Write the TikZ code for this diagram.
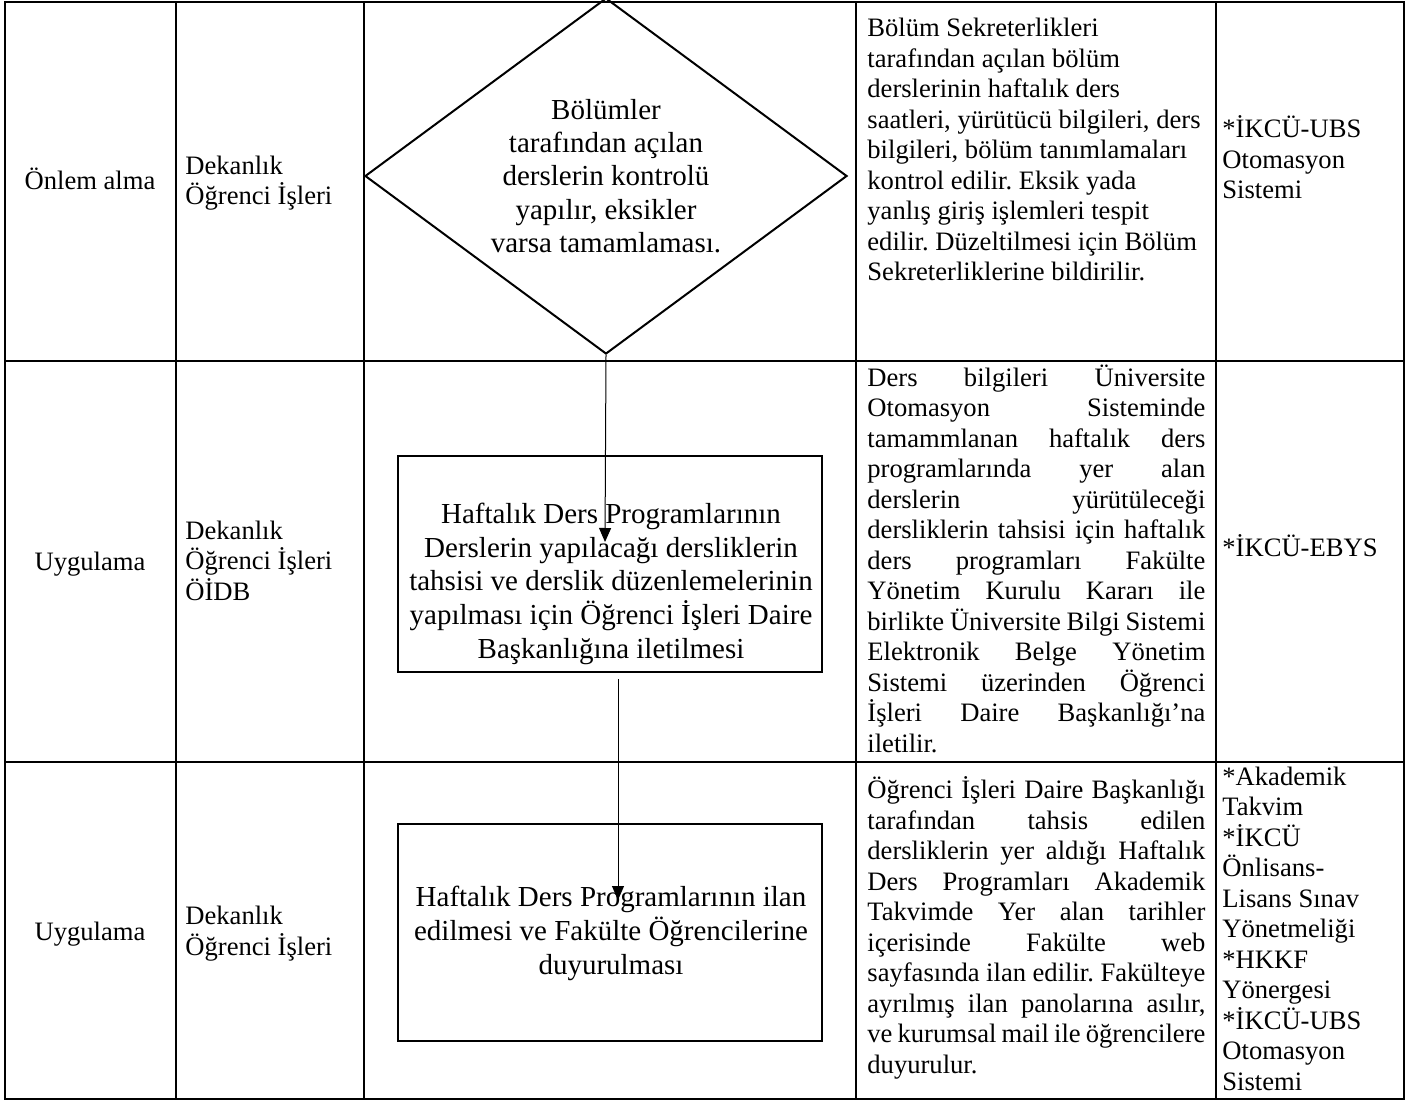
\documentclass[tikz,border=0pt]{standalone}
\usepackage{fontspec}
\setmainfont{Liberation Serif}
\usetikzlibrary{shapes.geometric,arrows.meta}
\frenchspacing
\newcommand{\fillline}[1]{\makebox[169pt][s]{#1}}
\tikzset{
    grid line/.style={line width=1pt},
    celltext/.style={inner sep=0pt, align=left, anchor=base west,
            font=\fontsize{13.3pt}{15.25pt}\selectfont},
    stagetext/.style={inner sep=0pt, anchor=base,
            font=\fontsize{13.3pt}{15.25pt}\selectfont},
    decision/.style={diamond, draw, line width=1pt, inner sep=0pt, aspect=1.354,
            minimum width=241pt, minimum height=178pt, align=center,
            font=\fontsize{14.5pt}{16.7pt}\selectfont},
    actbox/.style={rectangle, draw, line width=1pt, inner sep=0pt,
            minimum width=212pt, minimum height=108pt},
    boxtext/.style={inner sep=0pt, align=center, anchor=base,
            font=\fontsize{14.5pt}{16.8pt}\selectfont},
    flow/.style={-{Triangle[width=6pt,length=7pt]}, line width=0.5pt},
}
\begin{document}
\begin{tikzpicture}[x=0.5pt,y=-0.5pt]
    \useasboundingbox (0,0) rectangle (1418,1101);
    %draw table frame and row lines
    \draw[grid line] (5,2) rectangle (1404,1099);
    \draw[grid line] (5,361) -- (1404,361);
    \draw[grid line] (5,762) -- (1404,762);
    %draw column lines
    \foreach \colx in {176,364,856,1216}
        \draw[grid line] (\colx,2) -- (\colx,1099);
    %first column: stages
    \node[stagetext] (stage1) at (90,190) {Önlem alma};
    \node[stagetext] (stage2) at (90,570) {Uygulama};
    \node[stagetext] (stage3) at (90,940) {Uygulama};
    %second column: units (placed at the last line)
    \node[celltext] (unit1) at (185,205) {Dekanlık\\Öğrenci İşleri};
    \node[celltext] (unit2) at (185,600) {Dekanlık\\Öğrenci İşleri\\ÖİDB};
    \node[celltext] (unit3) at (185,955) {Dekanlık\\Öğrenci İşleri};
    %decision and process boxes
    \node[decision] (dec) at (606,176) {Bölümler\\tarafından açılan\\derslerin kontrolü\\yapılır, eksikler\\varsa tamamlaması.};
    \node[actbox] (act1) at (610,564) {};
    \node[boxtext] (act1 text) at (611,658) {Haftalık Ders Programlarının\\Derslerin yapılacağı dersliklerin\\tahsisi ve derslik düzenlemelerinin\\yapılması için Öğrenci İşleri Daire\\Başkanlığına iletilmesi};
    \node[actbox, minimum height=108.5pt] (act2) at (610,932.5) {};
    \node[boxtext] (act2 text) at (611,974) {Haftalık Ders Programlarının ilan\\edilmesi ve Fakülte Öğrencilerine\\duyurulması};
    %draw arrows
    \coordinate (tip1) at (605,542);
    \coordinate (out1) at (618,679);
    \coordinate (tip2) at (618,900);
    \draw[flow] (dec.south) -- (tip1);
    \draw[flow] (out1) -- (tip2);
    %fourth column: explanations
    \node[celltext] (desc1) at (867,281) {Bölüm Sekreterlikleri\\tarafından açılan bölüm\\derslerinin haftalık ders\\saatleri, yürütücü bilgileri, ders\\bilgileri, bölüm tanımlamaları\\kontrol edilir. Eksik yada\\yanlış giriş işlemleri tespit\\edilir. Düzeltilmesi için Bölüm\\Sekreterliklerine bildirilir.};
    \node[celltext] (desc2) at (867,752) {\fillline{Ders bilgileri Üniversite}\\\fillline{Otomasyon Sisteminde}\\\fillline{tamammlanan haftalık ders}\\\fillline{programlarında yer alan}\\\fillline{derslerin yürütüleceği}\\\fillline{dersliklerin tahsisi için haftalık}\\\fillline{ders programları Fakülte}\\\fillline{Yönetim Kurulu Kararı ile}\\\fillline{birlikte Üniversite Bilgi Sistemi}\\\fillline{Elektronik Belge Yönetim}\\\fillline{Sistemi üzerinden Öğrenci}\\\fillline{İşleri Daire Başkanlığı’na}\\iletilir.};
    \node[celltext] (desc3) at (867,1073) {\fillline{Öğrenci İşleri Daire Başkanlığı}\\\fillline{tarafından tahsis edilen}\\\fillline{dersliklerin yer aldığı Haftalık}\\\fillline{Ders Programları Akademik}\\\fillline{Takvimde Yer alan tarihler}\\\fillline{içerisinde Fakülte web}\\\fillline{sayfasında ilan edilir. Fakülteye}\\\fillline{ayrılmış ilan panolarına asılır,}\\\fillline{ve kurumsal mail ile öğrencilere}\\duyurulur.};
    %fifth column: references
    \node[celltext] (ref1) at (1222,199) {*İKCÜ-UBS\\Otomasyon\\Sistemi};
    \node[celltext] (ref2) at (1222,556) {*İKCÜ-EBYS};
    \node[celltext] (ref3) at (1222,1090) {*Akademik\\Takvim\\*İKCÜ\\Önlisans-\\Lisans Sınav\\Yönetmeliği\\*HKKF\\Yönergesi\\*İKCÜ-UBS\\Otomasyon\\Sistemi};
\end{tikzpicture}
\end{document}
